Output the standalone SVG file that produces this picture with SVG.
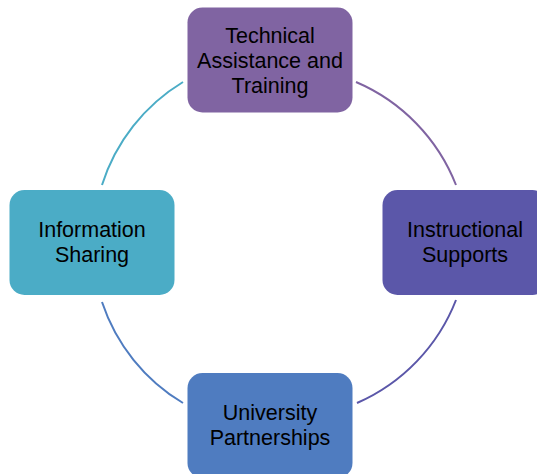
<svg xmlns="http://www.w3.org/2000/svg" width="537" height="474" viewBox="0 0 537 474">
<style>
.node text{font-family:"Liberation Sans",Arial,sans-serif;font-size:21.5px;fill:#000;text-anchor:middle}
.arc{fill:none;stroke-width:2}
</style>
<rect width="537" height="474" fill="#fff"/>
<g id="connectors">
<path class="arc" stroke="#4BACC6" d="M102,185 A186,186 0 0 1 183,82"/>
<path class="arc" stroke="#8064A2" d="M356,82 A186,186 0 0 1 456,185"/>
<path class="arc" stroke="#5B57A9" d="M456,300 A186,186 0 0 1 357,403"/>
<path class="arc" stroke="#4F7CC0" d="M183,403 A186,186 0 0 1 102,302"/>
</g>
<g id="node-technical" class="node">
<rect x="187.5" y="7.5" width="165" height="105" rx="15" fill="#8064A2"/>
<text x="270" y="43">Technical</text>
<text x="270" y="68">Assistance and</text>
<text x="270" y="93">Training</text>
</g>
<g id="node-instructional" class="node">
<rect x="382.5" y="190" width="165" height="105" rx="15" fill="#5B57A9"/>
<text x="465" y="237">Instructional</text>
<text x="465" y="262">Supports</text>
</g>
<g id="node-university" class="node">
<rect x="187.5" y="373" width="165" height="105" rx="15" fill="#4F7CC0"/>
<text x="270" y="420">University</text>
<text x="270" y="445">Partnerships</text>
</g>
<g id="node-information" class="node">
<rect x="9.5" y="190" width="165" height="105" rx="15" fill="#4BACC6"/>
<text x="92" y="237">Information</text>
<text x="92" y="262">Sharing</text>
</g>
</svg>
